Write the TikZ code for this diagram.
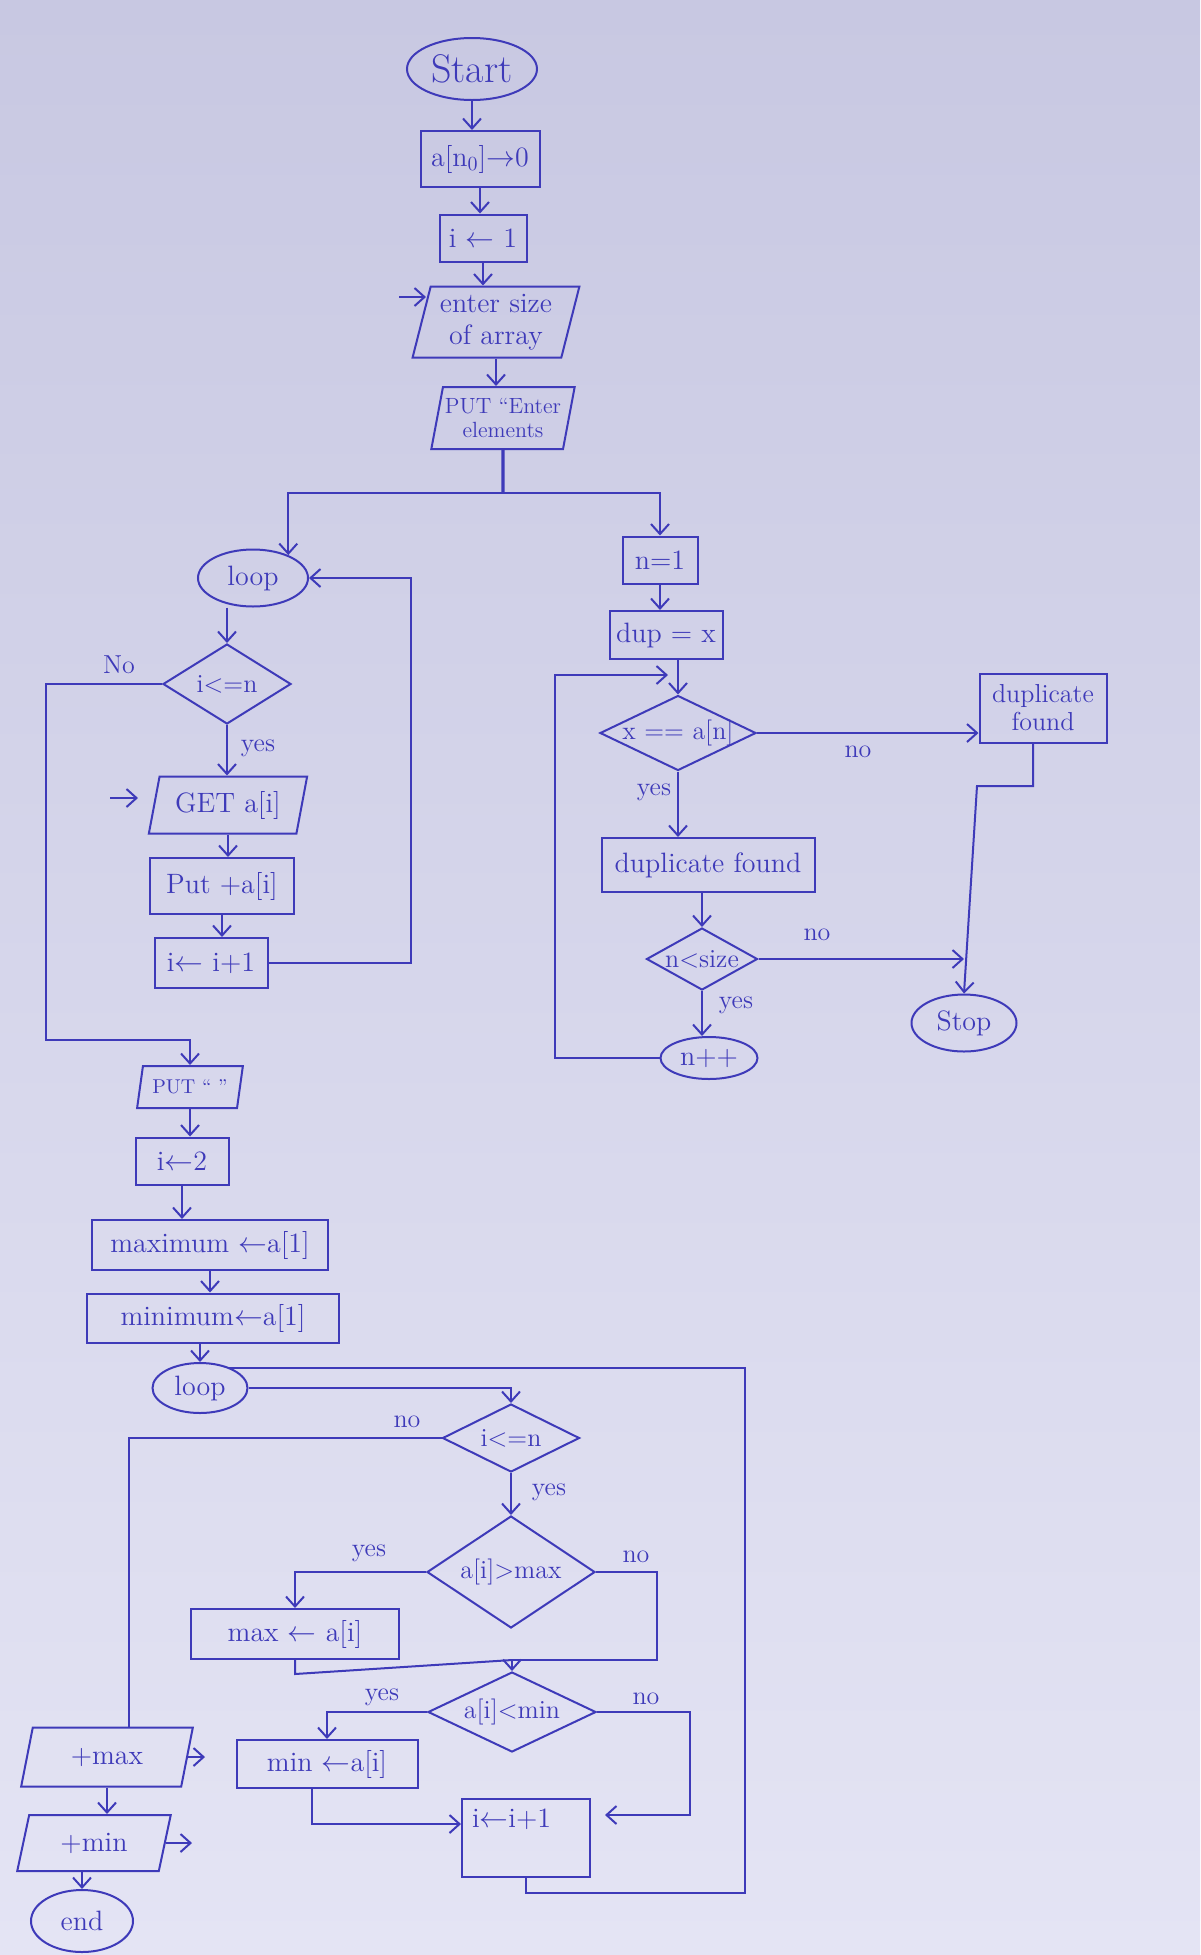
\documentclass[tikz,border=0pt]{standalone}
\usetikzlibrary{shapes.geometric,arrows.meta,calc}
\definecolor{ink}{RGB}{62,58,185}
\definecolor{papertop}{RGB}{200,200,226}
\definecolor{paperbot}{RGB}{228,228,244}
\begin{document}
\begin{tikzpicture}[x=0.5pt,y=-0.5pt,line width=1pt,draw=ink,
  font=\fontsize{14}{16}\selectfont,
  box/.style={draw=ink,rectangle,inner sep=1pt,text=ink},
  para/.style={draw=ink,trapezium,trapezium left angle=75,trapezium right angle=105,trapezium stretches=true,inner sep=1pt,align=center,text=ink},
  oval/.style={draw=ink,ellipse,inner sep=0pt,text=ink},
  dia/.style={draw=ink,diamond,inner sep=0pt,label={[text=ink,font=\fontsize{13}{15}\selectfont]center:#1}},
  arr/.style={-{Straight Barb[length=5pt,width=9pt]}},
  lbl/.style={text=ink,font=\fontsize{13}{15}\selectfont}]
\shade[top color=papertop,bottom color=paperbot] (0,0) rectangle (1200,1955);
\useasboundingbox (0,0) rectangle (1200,1955);

% top column
\node[oval,minimum width=65pt,minimum height=31pt,font=\fontsize{20}{22}\selectfont] (start) at (472,69) {Start};
\node[box,minimum width=59.5pt,minimum height=28pt] (an0) at (480,159) {a[n$_0$]$\rightarrow$0};
\node[box,minimum width=43.5pt,minimum height=23.5pt] (i1) at (483,238) {i $\leftarrow$ 1};
\node[para,minimum width=84pt,minimum height=35.5pt] (size) at (496,322) {enter size\\of array};
\node[para,minimum width=70.5pt,minimum height=31pt,font=\fontsize{11}{12}\selectfont] (put1) at (503,418) {PUT “Enter\\elements};
\coordinate (j1) at (503,493);
\coordinate (sin) at (399,297);
\coordinate (sin2) at (426,297);

% left loop
\node[oval,minimum width=55pt,minimum height=28.5pt] (loop1) at (253,578) {loop};
\node[dia={i<=n},minimum width=64pt,minimum height=40pt] (d1) at (227,684) {};
\node[para,minimum width=79.5pt,minimum height=28.5pt] (get) at (228,805) {GET a[i]};
\node[box,minimum width=72pt,minimum height=28pt] (put) at (222,886) {Put +a[i]};
\node[box,minimum width=56.5pt,minimum height=25pt] (inc1) at (211,963) {i$\leftarrow$ i+1};
\coordinate (gin) at (110,798);
\coordinate (gin2) at (138,798);
\coordinate (c1) at (46,1040);

% lower part
\node[para,minimum width=53pt,minimum height=21pt,font=\fontsize{10}{12}\selectfont] (put2) at (190,1087) {PUT “ ”};
\node[box,minimum width=46.5pt,minimum height=23.5pt] (i2) at (182,1161) {i$\leftarrow$2};
\node[box,minimum width=118pt,minimum height=25pt] (maxi) at (210,1245) {maximum $\leftarrow$a[1]};
\node[box,minimum width=126pt,minimum height=24.5pt] (mini) at (213,1318) {minimum$\leftarrow$a[1]};
\node[oval,minimum width=47.5pt,minimum height=25pt] (loop2) at (200,1388) {loop};
\node[dia={i<=n},minimum width=68.5pt,minimum height=34pt] (d2) at (511,1438) {};
\node[dia={a[i]>max},minimum width=84pt,minimum height=56pt] (d3) at (511,1572) {};
\node[box,minimum width=104pt,minimum height=25pt] (maxb) at (295,1634) {max $\leftarrow$ a[i]};
\node[dia={a[i]<min},minimum width=84pt,minimum height=40pt] (d4) at (512,1712) {};
\node[box,minimum width=90.5pt,minimum height=24pt] (minb) at (327,1764) {min $\leftarrow$a[i]};
\node[box,minimum width=64pt,minimum height=39pt] (inc2) at (526,1838) {};
\node[text=ink,anchor=north west,inner sep=0pt] (inc2t) at ($(inc2.north west)+(10,10)$) {i$\leftarrow$i+1};
\node[para,minimum width=86pt,minimum height=29.5pt] (pmax) at (107,1757) {+max};
\node[para,minimum width=77pt,minimum height=28pt] (pmin) at (94,1843) {+min};
\node[oval,minimum width=51pt,minimum height=31pt] (endn) at (82,1921) {end};
\coordinate (c4) at (745,1368);
\coordinate (c5) at (229,1368);
\coordinate (m) at (512,1660);
\coordinate (c6) at (657,1660);
\coordinate (c7) at (690,1815);
\coordinate (po1) at (205,1752);
\coordinate (po2) at (192,1843);

% right column
\node[box,minimum width=37.5pt,minimum height=23.5pt] (n1) at (660,560) {n=1};
\node[box,minimum width=56.5pt,minimum height=24pt] (dup) at (666,635) {dup = x};
\node[dia={x == a[n]},minimum width=78pt,minimum height=37.5pt] (d5) at (678,733) {};
\node[box,minimum width=63.5pt,minimum height=34.5pt,align=center,font=\fontsize{13}{14}\selectfont] (dupf) at (1043,708) {duplicate\\found};
\node[box,minimum width=106.5pt,minimum height=27pt] (dupm) at (708,865) {duplicate found};
\node[dia={n<size},minimum width=55.5pt,minimum height=31pt] (d6) at (702,959) {};
\node[oval,minimum width=48.5pt,minimum height=21pt] (npp) at (709,1058) {n++};
\node[oval,minimum width=52.5pt,minimum height=28.5pt] (stop) at (964,1023) {Stop};
\coordinate (r0) at (555,675);
\coordinate (r1) at (668,675);
\coordinate (c10) at (977,786);
\coordinate (s1) at (964,959);

% labels
\node[lbl] (lNo1) at (119,665) {No};
\node[lbl] (lyes1) at (258,748) {yes};
\node[lbl] (lno2) at (407,1422) {no};
\node[lbl] (lyes2) at (549,1492) {yes};
\node[lbl] (lyes3) at (369,1553) {yes};
\node[lbl] (lno3) at (636,1557) {no};
\node[lbl] (lyes4) at (382,1697) {yes};
\node[lbl] (lno4) at (646,1699) {no};
\node[lbl] (lno5) at (858,752) {no};
\node[lbl] (lyes5) at (654,792) {yes};
\node[lbl] (lno6) at (817,935) {no};
\node[lbl] (lyes6) at (736,1005) {yes};

% connectors top
\draw[arr] (start.south) -- (start.south |- an0.north);
\draw[arr] (an0.south) -- (an0.south |- i1.north);
\draw[arr] (i1.south) -- (i1.south |- size.north);
\draw[arr] (sin) -- (sin2);
\draw[arr] (size.south) -- (size.south |- put1.north);
\draw[line width=1.6pt] (put1.south) -- (j1);
\draw[arr] (j1) -| (loop1.33);
\draw[arr] (j1) -| (n1.north);

% left loop connectors
\draw[arr] (loop1.south -| d1.north) -- (d1.north);
\draw[arr] (d1.west) -| (c1) -| (put2.north);
\draw[arr] (d1.south) -- (d1.south |- get.north);
\draw[arr] (gin) -- (gin2);
\draw[arr] (get.south) -- (get.south |- put.north);
\draw[arr] (put.south) -- (put.south |- inc1.north);
\draw[arr] (inc1.east) -| ($(loop1.east)+(102,0)$) -- (loop1.east);

% lower connectors
\draw[arr] (put2.south) -- (put2.south |- i2.north);
\draw[arr] (i2.south) -- (i2.south |- maxi.north);
\draw[arr] (maxi.south) -- (maxi.south |- mini.north);
\draw[arr] (loop2.north |- mini.south) -- (loop2.north);
\draw[arr] (loop2.east) -| (d2.north);
\draw (inc2.south) -- ++(0,15) -| (c4) -- (c5);
\draw (d2.west) -| ($(pmax.north)+(22,0)$);
\draw[arr] (d2.south) -- (d3.north);
\draw[arr] (d3.west) -| (maxb.north);
\draw (d3.east) -| (c6) -- (m);
\draw (maxb.south) -- ++(0,14) -- (m);
\draw[arr] (m) -- (d4.north);
\draw[arr] (d4.west) -| (minb.north);
\draw[arr,shorten >=7pt] (d4.east) -| (c7) -- (c7 -| inc2.east);
\draw[arr] ($(minb.south)+(-15,0)$) |- ($(inc2.west)+(0,-14)$);
\draw[arr] (pmax.south) -- (pmax.south |- pmin.north);
\draw[arr] (pmax.east) -- (pmax.east -| po1);
\draw[arr] (pmin.east) -- (pmin.east -| po2);
\draw[arr] (pmin.south -| endn.north) -- (endn.north);

% right connectors
\draw[arr] (n1.south) -- (n1.south |- dup.north);
\draw[arr] (d5.north |- dup.south) -- (d5.north);
\draw[arr] (npp.west) -| (r0) -- (r1);
\draw[arr] (d5.east) -- (d5.east -| dupf.west);
\draw[arr] (d5.south) -- (d5.south |- dupm.north);
\draw[arr] (d6.north |- dupm.south) -- (d6.north);
\draw[arr] (d6.east) -- (s1);
\draw[arr] (d6.south) -- (d6.south |- npp.north);
\draw[arr] ($(dupf.south)+(-10,0)$) |- (c10) -- (stop.north);
\end{tikzpicture}
\end{document}
